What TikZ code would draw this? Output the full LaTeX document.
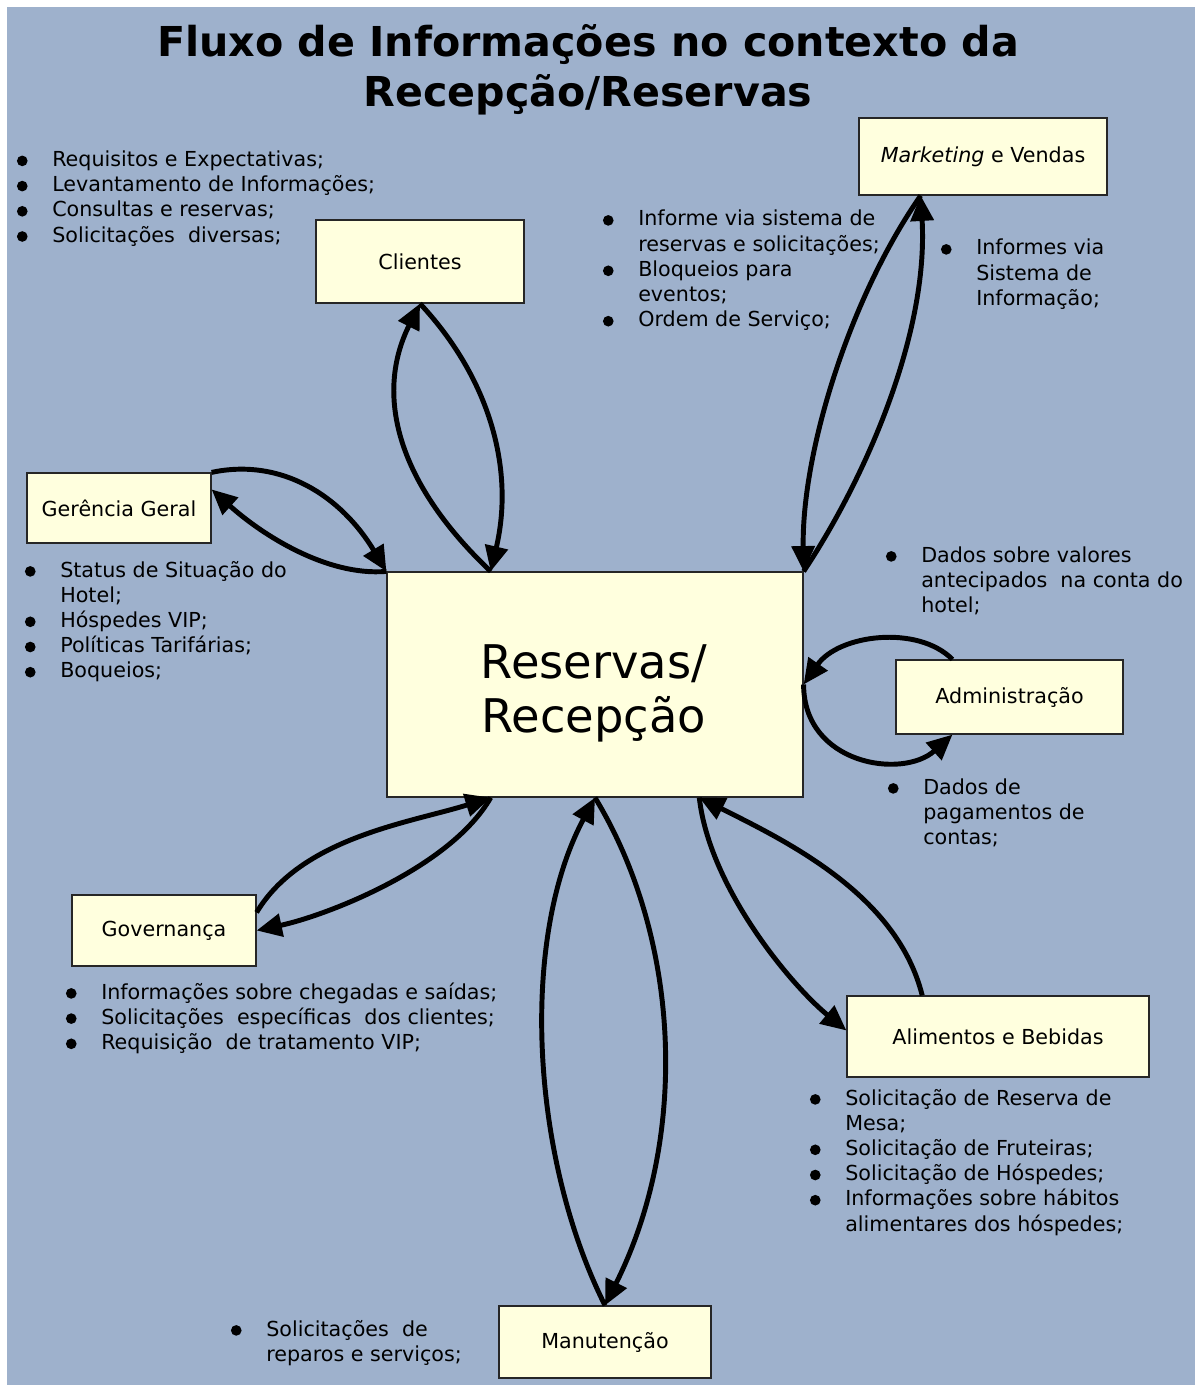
\documentclass[tikz,border=0pt]{standalone}
\usepackage{fontspec}
\setmainfont{DejaVu Sans}
\usetikzlibrary{arrows.meta,calc}
\definecolor{bgblue}{RGB}{158,177,204}
\definecolor{boxfill}{RGB}{255,255,222}
\newcommand\bul{\llap{\tikz[baseline=-4.2pt]\fill (0,0) circle (4pt);\hspace{18.5pt}}}
\newcommand\lline[1]{\hbox{#1}}
\begin{document}
\begin{tikzpicture}[x=0.75pt,y=-0.75pt,
  box/.style={draw=black!85, line width=0.9pt, fill=boxfill, inner sep=0pt, font=\fontsize{15.5}{18.9}\selectfont},
  lst/.style={inner sep=0pt, anchor=base west, font=\fontsize{15.5}{18.9}\selectfont},
  flow/.style={line width=3.7pt, -{Triangle[length=19pt,width=17pt]}},
]
\fill[white] (0,0) rectangle (1195,1387);
\fill[bgblue] (7,7) rectangle (1195,1385);
\useasboundingbox (0,0) rectangle (1195,1387);

% title
\node[anchor=base, inner sep=0pt, font=\bfseries\fontsize{30.9}{37.5}\selectfont] (title) at (588,57)
  {\begin{tabular}[t]{@{}c@{}}Fluxo de Informações no contexto da\\ Recepção/Reservas\end{tabular}};

% boxes
\node[box, minimum width=186pt, minimum height=57.75pt] (mkt) at (983,156.5) {\textit{Marketing} e Vendas};
\node[box, minimum width=156pt, minimum height=62.25pt] (cli) at (420,261.5) {Clientes};
\node[box, minimum width=138pt, minimum height=52.5pt] (ger) at (119,508) {Gerência Geral};
\node[box, minimum width=312pt, minimum height=168.75pt] (res) at (595,684.5) {};
\node[anchor=base, inner sep=0pt, font=\fontsize{34.8}{41}\selectfont] (restext) at (594,678)
  {\begin{tabular}[t]{@{}c@{}}Reservas/\\ Recepção\end{tabular}};
\node[box, minimum width=170.25pt, minimum height=55.5pt] (adm) at (1009.5,697) {Administração};
\node[box, minimum width=138pt, minimum height=53.25pt] (gov) at (164,930.5) {Governança};
\node[box, minimum width=226.5pt, minimum height=60.75pt] (ali) at (998,1036.5) {Alimentos e Bebidas};
\node[box, minimum width=159pt, minimum height=54pt] (man) at (605,1342) {Manutenção};

% bullet lists
\node[lst] (tcli) at (52,166.5) {\vtop{\lline{\bul Requisitos e Expectativas;}\lline{\bul Levantamento de Informações;}\lline{\bul Consultas e reservas;}\lline{\bul Solicitações\ \ diversas;}}};
\node[lst] (tmkt1) at (638,226) {\vtop{\lline{\bul Informe via sistema de}\lline{reservas e solicitações;}\lline{\bul Bloqueios para}\lline{eventos;}\lline{\bul Ordem de Serviço;}}};
\node[lst] (tmkt2) at (976,255) {\vtop{\lline{\bul Informes via}\lline{Sistema de}\lline{Informação;}}};
\node[lst] (tger) at (60,577) {\vtop{\lline{\bul Status de Situação do}\lline{Hotel;}\lline{\bul Hóspedes VIP;}\lline{\bul Políticas Tarifárias;}\lline{\bul Boqueios;}}};
\node[lst] (tadm1) at (921,562) {\vtop{\lline{\bul Dados sobre valores}\lline{antecipados\ \ na conta do}\lline{hotel;}}};
\node[lst] (tadm2) at (923,794) {\vtop{\lline{\bul Dados de}\lline{pagamentos de}\lline{contas;}}};
\node[lst] (tgov) at (101,999) {\vtop{\lline{\bul Informações sobre chegadas e saídas;}\lline{\bul Solicitações\ \ específicas\ \ dos clientes;}\lline{\bul Requisição\ \ de tratamento VIP;}}};
\node[lst] (tali) at (845,1105) {\vtop{\lline{\bul Solicitação de Reserva de}\lline{Mesa;}\lline{\bul Solicitação de Fruteiras;}\lline{\bul Solicitação de Hóspedes;}\lline{\bul Informações sobre hábitos}\lline{alimentares dos hóspedes;}}};
\node[lst] (tman) at (266,1336) {\vtop{\lline{\bul Solicitações\ \ de}\lline{reparos e serviços;}}};

% anchor points
\coordinate (resN1) at ($(res.north west)!0.25!(res.north east)$);
\coordinate (resS1) at ($(res.south west)!0.25!(res.south east)$);
\coordinate (resS3) at ($(res.south west)!0.75!(res.south east)$);
\coordinate (gerE) at ($(ger.north east)+(0,17)$);
\coordinate (mktS) at ($(mkt.south west)!0.25!(mkt.south east)$);
\coordinate (admN) at ($(adm.north west)!0.25!(adm.north east)$);
\coordinate (admS) at ($(adm.south west)!0.25!(adm.south east)$);
\coordinate (govA) at ($(gov.north east)+(0,18)$);
\coordinate (aliN) at ($(ali.north west)!0.25!(ali.north east)$);
\coordinate (aliW) at ($(ali.west)+(0,-6)$);

% connectors
\draw[flow] (resN1) .. controls +(-95,-90) and +(-45,90) .. (cli.south);
\draw[flow] (cli.south) .. controls +(70,75) and +(24,-102) .. (resN1);

\draw[flow] (ger.north east) .. controls +(70,-15) and +(-45,-75) .. (res.north west);
\draw[flow] (res.north west) .. controls +(-60,5) and +(50,45) .. (gerE);

\draw[flow] (mktS) .. controls +(-70,100) and +(-2,-120) .. (res.north east);
\draw[flow] (res.north east) .. controls +(60,-90) and +(8,140) .. (mktS);

\draw[flow] (admN) .. controls +(-35,-35) and +(35,-50) .. (res.east);
\draw[flow] (res.east) .. controls +(0,80) and +(-50,45) .. (admS);

\draw[flow] (govA) .. controls +(45,-75) and +(-80,25) .. (resS1);
\draw[flow] (resS1) .. controls +(-40,70) and +(70,-15) .. (gov.east);

\draw[flow] (man.north) .. controls +(-75,-150) and +(-75,140) .. (res.south);
\draw[flow] (res.south) .. controls +(85,140) and +(85,-170) .. (man.north);

\draw[flow] (aliN) .. controls +(-25,-100) and +(90,45) .. (resS3);
\draw[flow] (resS3) .. controls +(10,90) and +(-55,-45) .. (aliW);
\end{tikzpicture}
\end{document}
